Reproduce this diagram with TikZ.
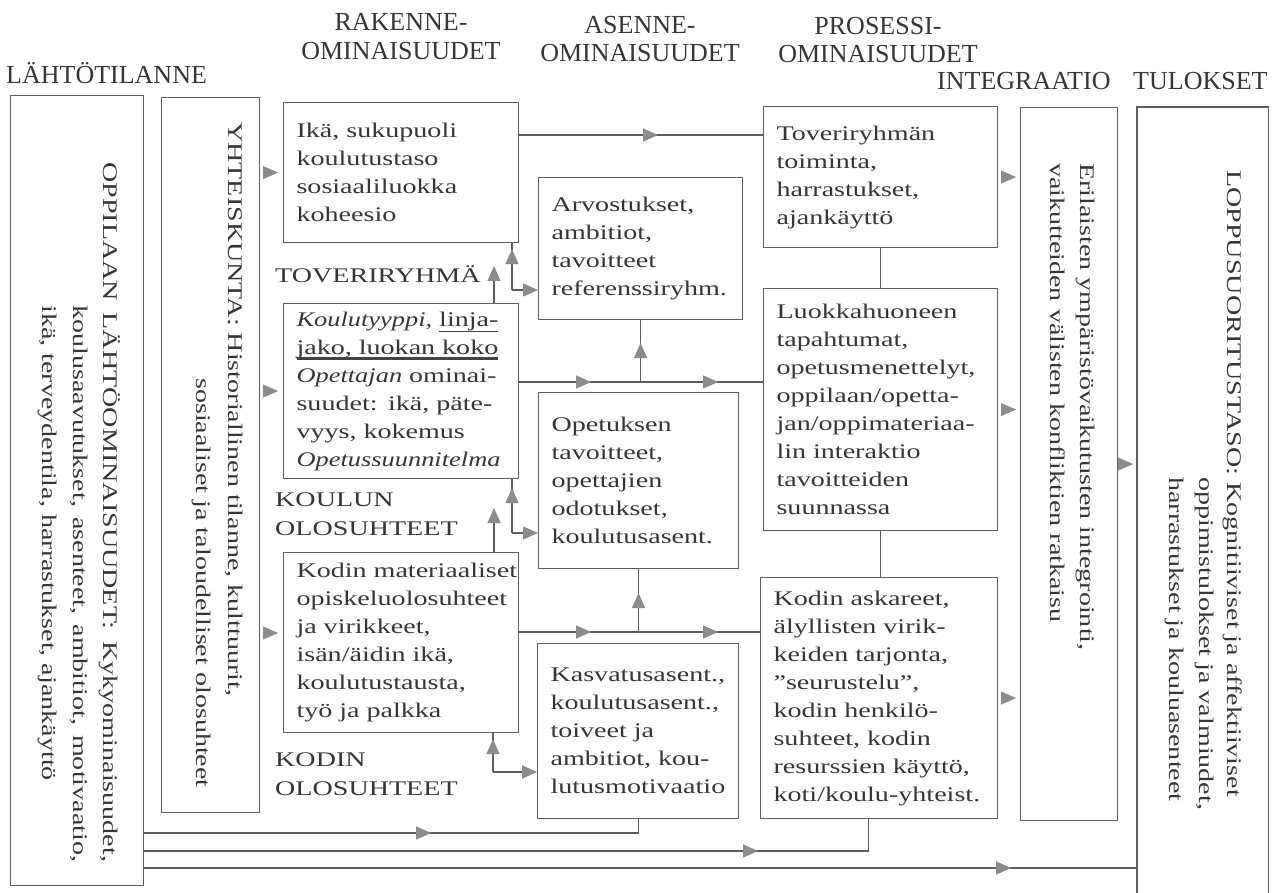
\documentclass[tikz,border=0pt]{standalone}
\usepackage{fontspec}
\setmainfont{Liberation Serif}[FakeStretch=1.35, ItalicFeatures={FakeStretch=1.27}]
\newfontfamily\headfont{Liberation Serif}
\usetikzlibrary{arrows.meta,decorations.markings,calc}

\definecolor{ink}{HTML}{363636}
\definecolor{rulegray}{HTML}{5E5E5E}
\definecolor{tipgray}{HTML}{8C8C8C}
\definecolor{pen}{HTML}{4A4040}

% left indent of the text inside the boxes
\newcommand\bxin{\leftskip=13pt\relax}
% hand-drawn underline: #1 = thickness, #2 = text
\newcommand\penline[2]{\leavevmode\setbox0\hbox{#2}\rlap{\textcolor{pen}{\rule[-6pt]{\wd0}{#1}}}\box0}

\tikzset{
  gtri/.tip={Triangle[length=15pt,width=13pt,color=tipgray]},
  conn/.style={draw=rulegray, line width=1.1pt},
  frame/.style={draw=rulegray, line width=1.1pt, anchor=north west, inner sep=0pt},
  txtbox/.style n args={2}{frame, minimum width=#1, minimum height=#2, text width=#1,
    align=left, text=ink, font=\fontsize{20.8}{28}\selectfont},
  vt/.style={rotate=-90, anchor=mid west, inner sep=0pt, text=ink, font=\fontsize{20.8}{28}\selectfont},
  lbl/.style={anchor=base west, inner sep=0pt, text=ink, font=\fontsize{20.8}{28}\selectfont},
  head/.style={anchor=base, inner sep=0pt, text=ink, font=\headfont\fontsize{26}{30}\selectfont},
  arrowat/.style={postaction={decorate}, decoration={markings, mark=at position #1 with {\arrow{gtri}}}},
  arrowsat/.style 2 args={postaction={decorate}, decoration={markings,
    mark=at position #1 with {\arrow{gtri}}, mark=at position #2 with {\arrow{gtri}}}},
}

\begin{document}
\begin{tikzpicture}[x=1pt, y=-1pt]
\useasboundingbox (0,0) rectangle (1280,893);
\fill[white] (0,0) rectangle (1280,893);

% column headings
\node[head, anchor=base west] (hL) at (6,84)   {LÄHTÖTILANNE};
\node[head] (hRa) at (401,31)  {RAKENNE-};
\node[head] (hRb) at (401,60)  {OMINAISUUDET};
\node[head] (hAa) at (640,34)  {ASENNE-};
\node[head] (hAb) at (640,62)  {OMINAISUUDET};
\node[head] (hPa) at (878,35)  {PROSESSI-};
\node[head] (hPb) at (878,63)  {OMINAISUUDET};
\node[head, anchor=base west] (hI) at (937,90)  {INTEGRAATIO};
\node[head, anchor=base west] (hT) at (1133,90) {TULOKSET};

% starting situation
\node[frame, minimum width=133pt, minimum height=790pt] (lahto) at (10,95) {};
\node[vt] (lahto1) at (106,162) {\makebox[700pt][s]{OPPILAAN LÄHTÖOMINAISUUDET: Kykyominaisuudet,}};
\node[vt] (lahto2) at (76,305)  {\makebox[557pt][s]{koulusaavutukset, asenteet, ambitiot, motivaatio,}};
\node[vt] (lahto3) at (45,305)  {ikä, terveydentila, harrastukset, ajankäyttö};

\node[frame, minimum width=98pt, minimum height=715pt] (yht) at (161,97) {};
\node[vt] (yht1) at (231,122) {YHTEISKUNTA: Historiallinen tilanne, kulttuurit,};
\node[vt] (yht2) at (199,378) {sosiaaliset ja taloudelliset olosuhteet};

% structural properties
\node[txtbox={235pt}{140pt}] (ika) at (283,102)
  {\bxin Ikä, sukupuoli\\koulutustaso\\sosiaaliluokka\\koheesio\par};
\node[lbl] (lTov) at (275,283) {TOVERIRYHMÄ};
\node[txtbox={235pt}{175pt}] (koulu) at (283,303)
  {\bxin \textit{Koulutyyppi,} \penline{1.2pt}{linja-}\\\penline{2.6pt}{jako, luokan koko}\\\textit{Opettajan} ominai-\\suudet: ikä, päte-\\vyys, kokemus\\\textit{Opetussuunnitelma}\par};
\node[lbl] (lKou1) at (275,506) {KOULUN};
\node[lbl] (lKou2) at (275,535) {OLOSUHTEET};
\node[txtbox={235pt}{180pt}] (koti) at (283,552)
  {\bxin Kodin materiaaliset\\opiskeluolosuhteet\\ja virikkeet,\\isän/äidin ikä,\\koulutustausta,\\työ ja palkka\par};
\node[lbl] (lKod1) at (275,766) {KODIN};
\node[lbl] (lKod2) at (275,795) {OLOSUHTEET};

% attitudinal properties
\node[txtbox={204pt}{142pt}] (arvo) at (538,177)
  {\bxin Arvostukset,\\ambitiot,\\tavoitteet\\referenssiryhm.\par};
\node[txtbox={200pt}{176pt}] (opet) at (538,392)
  {\bxin Opetuksen\\tavoitteet,\\opettajien\\odotukset,\\koulutusasent.\par};
\node[txtbox={201pt}{175pt}] (kasv) at (537,643)
  {\bxin Kasvatusasent.,\\koulutusasent.,\\toiveet ja\\ambitiot, kou-\\lutusmotivaatio\par};

% process properties
\node[txtbox={234pt}{141pt}] (tover) at (763,106)
  {\bxin Toveriryhmän\\toiminta,\\harrastukset,\\ajankäyttö\par};
\node[txtbox={234pt}{242pt}] (luokka) at (763,288)
  {\bxin Luokkahuoneen\\tapahtumat,\\opetusmenettelyt,\\oppilaan/opetta-\\jan/oppimateriaa-\\lin interaktio\\tavoitteiden\\suunnassa\par};
\node[txtbox={237pt}{241pt}] (askar) at (760,577)
  {\bxin Kodin askareet,\\älyllisten virik-\\keiden tarjonta,\\”seurustelu”,\\kodin henkilö-\\suhteet, kodin\\resurssien käyttö,\\koti/koulu-yhteist.\par};

% integration and results
\node[frame, minimum width=97pt, minimum height=713pt] (integ) at (1020,107) {};
\node[vt] (integ1) at (1083,163) {Erilaisten ympäristövaikutusten integrointi,};
\node[vt] (integ2) at (1053,163) {vaikutteiden välisten konfliktien ratkaisu};

\node[anchor=north west, inner sep=0pt, minimum width=131pt, minimum height=786pt] (loppu) at (1137,107) {};
\draw[conn] (loppu.south west) -- (loppu.north west) -- (loppu.north east) -- (loppu.south east);
\node[vt] (loppu1) at (1230,170) {LOPPUSUORITUSTASO: Kognitiiviset ja affektiiviset};
\node[vt] (loppu2) at (1202,477) {oppimistulokset ja valmiudet,};
\node[vt] (loppu3) at (1172,477) {harrastukset ja kouluasenteet};

% society feeds the structural boxes
\path[arrowat=-5pt] (yht.east |- ika.west) -- (ika.west);
\path[arrowat=-5pt] (yht.east |- koulu.west) -- (koulu.west);
\path[arrowat=-5pt] (yht.east |- 0,633) -- (koti.west |- 0,633);

% structure -> process rows
\coordinate (rA) at (0,135);
\coordinate (rB) at (0,382);
\coordinate (rC) at (0,632);
\draw[conn, arrowat=139pt] (ika.east |- rA) -- (tover.west |- rA);
\draw[conn, arrowsat={72pt}{199pt}] (koulu.east |- rB) -- (luokka.west |- rB);
\draw[conn, arrowat=39pt] (arvo.south |- rB) -- (arvo.south);
\draw[conn, arrowsat={72pt}{199pt}] (koti.east |- rC) -- (askar.west |- rC);
\draw[conn, arrowat=39pt] (opet.south |- rC) -- (opet.south);

% peer group links
\coordinate (tgL) at (494,266);
\coordinate (tgJ) at (512,290);
\draw[conn, -{gtri}] (koulu.north -| tgL) -- (tgL);
\draw[conn, arrowat=-6pt] (tgJ) -- (tgJ |- ika.south);
\draw[conn, -{gtri}] (tgJ) -- (tgJ -| arvo.west);

% school links
\coordinate (sgL) at (494,508);
\coordinate (sgJ) at (512,533);
\draw[conn, -{gtri}] (koti.north -| sgL) -- (sgL);
\draw[conn, arrowat=-9pt] (sgJ) -- (sgJ |- koulu.south);
\draw[conn, -{gtri}] (sgJ) -- (sgJ -| opet.west);

% home links
\coordinate (hgJ) at (493,772);
\draw[conn, arrowat=-6pt] (hgJ) -- (hgJ |- koti.south);
\draw[conn, -{gtri}] (hgJ) -- (hgJ -| kasv.west);

% process chain
\draw[conn] (tover.south) -- (luokka.north);
\draw[conn] (luokka.south) -- (luokka.south |- askar.north);

% process -> integration -> results
\path[arrowat=-4pt] (tover.east) -- (tover.east -| integ.west);
\path[arrowat=-4pt] (luokka.east) -- (luokka.east -| integ.west);
\path[arrowat=-4pt] (askar.east) -- (askar.east -| integ.west);
\path[arrowat=-4pt] (integ.east) -- (integ.east -| loppu.west);

% long lines from the starting situation
\coordinate (rD) at (0,833);
\coordinate (rE) at (0,851);
\coordinate (rF) at (0,868);
\coordinate (askT) at ($(askar.south)+(-11,0)$);
\draw[conn, arrowat=287pt] (lahto.east |- rD) -- (kasv.south |- rD) -- (kasv.south);
\draw[conn, arrowat=614pt] (lahto.east |- rE) -- (askT |- rE) -- (askT);
\draw[conn, arrowat=867pt] (lahto.east |- rF) -- (loppu.west |- rF);
\end{tikzpicture}
\end{document}
